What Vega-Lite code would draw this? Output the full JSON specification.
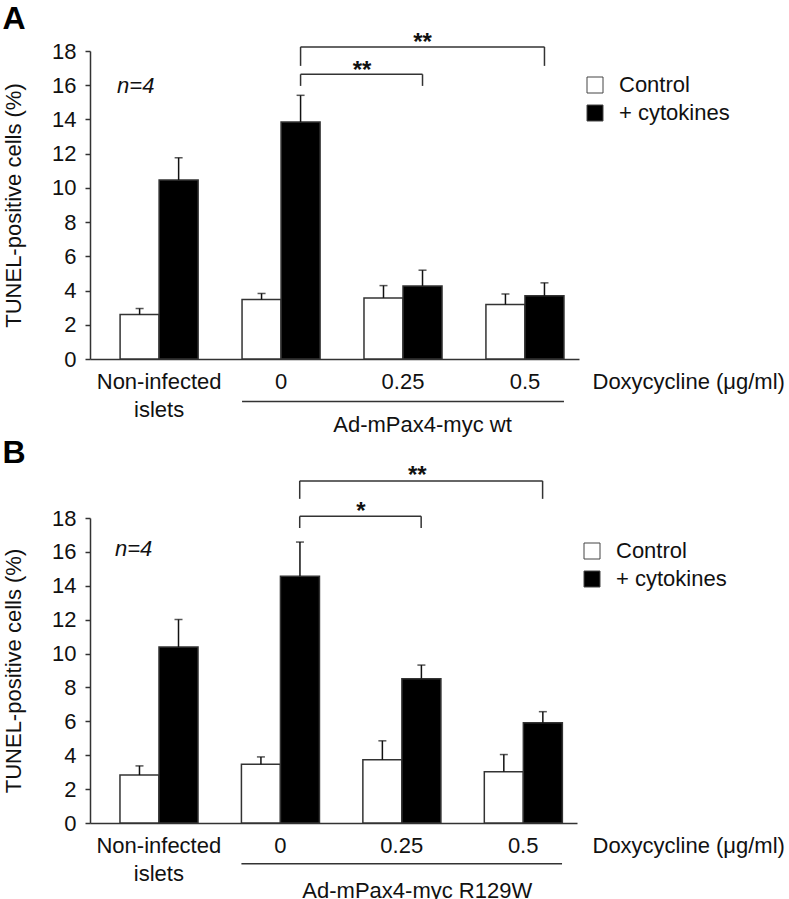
{
  "$schema": "https://vega.github.io/schema/vega-lite/v6.json",
  "background": "white",
  "autosize": {"type": "pad"},
  "padding": {"left": 2, "top": 3, "right": 0, "bottom": 0},
  "spacing": 0,
  "config": {
    "font": "Liberation Sans",
    "view": {"stroke": null},
    "axis": {"domainColor": "#333", "domainWidth": 1.5, "tickColor": "#333", "tickWidth": 1.5, "labelColor": "#111", "titleColor": "#111", "labelFontSize": 22, "titleFontSize": 22, "titleFontWeight": "normal", "labelFont": "Liberation Sans", "titleFont": "Liberation Sans", "grid": false, "labelOverlap": false},
    "legend": {"labelFontSize": 22, "labelFont": "Liberation Sans", "labelColor": "#111", "symbolType": "square", "symbolSize": 256, "symbolStrokeColor": "#444", "symbolStrokeWidth": 1, "rowPadding": 6, "labelOffset": 13, "padding": 0},
    "text": {"font": "Liberation Sans", "fontSize": 22, "color": "#111"}
  },
  "resolve": {"scale": {"fill": "independent"}, "legend": {"fill": "independent"}},
  "vconcat": [
    {
      "width": 489,
      "height": 308,
      "title": {"text": "A", "anchor": "start", "frame": "bounds", "fontSize": 32, "fontWeight": "bold", "offset": -30, "baseline": "alphabetic", "color": "#000", "font": "Liberation Sans"},
      "layer": [
        {
          "data": {"values": [
            {"group": "Non-infected islets", "series": "Control", "value": 2.6, "upper": 2.95},
            {"group": "Non-infected islets", "series": "+ cytokines", "value": 10.46, "upper": 11.76},
            {"group": "0", "series": "Control", "value": 3.47, "upper": 3.83},
            {"group": "0", "series": "+ cytokines", "value": 13.85, "upper": 15.41},
            {"group": "0.25", "series": "Control", "value": 3.57, "upper": 4.29},
            {"group": "0.25", "series": "+ cytokines", "value": 4.27, "upper": 5.19},
            {"group": "0.5", "series": "Control", "value": 3.18, "upper": 3.8},
            {"group": "0.5", "series": "+ cytokines", "value": 3.69, "upper": 4.45}
          ]},
          "layer": [
            {
              "mark": {"type": "bar", "stroke": "#333", "strokeWidth": 1.5},
              "encoding": {
                "x": {"field": "group", "type": "nominal", "sort": null,
                  "scale": {"domain": ["Non-infected islets", "0", "0.25", "0.5"], "paddingInner": 0.36, "paddingOuter": 0.185, "align": 0.667},
                  "axis": {"labelAngle": 0, "ticks": false, "labelPadding": 12, "labelLineHeight": 28, "labelExpr": "datum.value == 'Non-infected islets' ? ['Non-infected', 'islets'] : datum.label", "title": "Doxycycline (μg/ml)", "titleAngle": 0, "titleAlign": "left", "titleBaseline": "top", "titleX": 502, "titleY": 12, "labelOverlap": false}},
                "xOffset": {"field": "series", "type": "nominal", "sort": null, "scale": {"domain": ["Control", "+ cytokines"], "paddingInner": 0, "paddingOuter": 0}},
                "y": {"field": "value", "type": "quantitative",
                  "scale": {"domain": [0, 18], "nice": false},
                  "axis": {"title": "TUNEL-positive cells (%)", "values": [0, 2, 4, 6, 8, 10, 12, 14, 16, 18], "tickCount": 10, "labelOverlap": false, "labelFlush": false, "tickSize": 5, "labelPadding": 9, "titlePadding": 26}},
                "fill": {"field": "series", "type": "nominal", "sort": null,
                  "scale": {"domain": ["Control", "+ cytokines"], "range": ["#ffffff", "#000000"]},
                  "legend": {"title": null, "orient": "none", "legendX": 494, "legendY": 23}}
              }
            },
            {
              "mark": {"type": "rule", "color": "#111", "strokeWidth": 1.5},
              "encoding": {
                "x": {"field": "group", "type": "nominal"},
                "xOffset": {"field": "series", "type": "nominal"},
                "y": {"field": "value", "type": "quantitative", "scale": {"domain": [0, 18], "nice": false}},
                "y2": {"field": "upper"}
              }
            },
            {
              "mark": {"type": "tick", "color": "#111", "thickness": 1.5, "size": 8},
              "encoding": {
                "x": {"field": "group", "type": "nominal"},
                "xOffset": {"field": "series", "type": "nominal"},
                "y": {"field": "upper", "type": "quantitative", "scale": {"domain": [0, 18], "nice": false}}
              }
            }
          ]
        },
        {
          "data": {"values": [
            {"from": "0", "to": "0.25", "ya": 16.64, "yb": 16.64},
            {"from": "0", "to": "0", "ya": 15.96, "yb": 16.64},
            {"from": "0.25", "to": "0.25", "ya": 15.96, "yb": 16.64},
            {"from": "0", "to": "0.5", "ya": 18.24, "yb": 18.24},
            {"from": "0", "to": "0", "ya": 17.13, "yb": 18.24},
            {"from": "0.5", "to": "0.5", "ya": 17.13, "yb": 18.24}
          ]},
          "mark": {"type": "rule", "color": "#333", "strokeWidth": 1.5},
          "encoding": {
            "x": {"field": "from", "type": "nominal", "bandPosition": 0.75},
            "x2": {"field": "to", "bandPosition": 0.75},
            "y": {"field": "ya", "type": "quantitative", "scale": {"domain": [0, 18], "nice": false}},
            "y2": {"field": "yb"}
          }
        },
        {
          "data": {"values": [{"group": "0.25", "y": 18.05, "label": "**"}]},
          "mark": {"type": "text", "fontSize": 24, "fontWeight": "bold", "baseline": "alphabetic", "align": "center"},
          "encoding": {
            "x": {"field": "group", "type": "nominal", "bandPosition": 0.75},
            "y": {"field": "y", "type": "quantitative", "scale": {"domain": [0, 18], "nice": false}},
            "text": {"field": "label"}
          }
        },
        {
          "data": {"values": [{"group": "0.25", "y": 16.41, "label": "**"}]},
          "mark": {"type": "text", "fontSize": 24, "fontWeight": "bold", "baseline": "alphabetic", "align": "center", "dx": -2},
          "encoding": {
            "x": {"field": "group", "type": "nominal", "bandPosition": 0},
            "y": {"field": "y", "type": "quantitative", "scale": {"domain": [0, 18], "nice": false}},
            "text": {"field": "label"}
          }
        },
        {
          "data": {"values": [{"group": "Non-infected islets", "y": 15.56, "label": "n=4"}]},
          "mark": {"type": "text", "fontStyle": "italic", "baseline": "alphabetic", "align": "left", "dx": -3},
          "encoding": {
            "x": {"field": "group", "type": "nominal", "bandPosition": 0},
            "y": {"field": "y", "type": "quantitative", "scale": {"domain": [0, 18], "nice": false}},
            "text": {"field": "label"}
          }
        },
        {
          "data": {"values": [{"from": "0", "to": "0.5", "y": -2.48}]},
          "mark": {"type": "rule", "color": "#333", "strokeWidth": 1.5},
          "encoding": {
            "x": {"field": "from", "type": "nominal", "bandPosition": 0},
            "x2": {"field": "to", "bandPosition": 1},
            "y": {"field": "y", "type": "quantitative", "scale": {"domain": [0, 18], "nice": false}}
          }
        },
        {
          "data": {"values": [{"group": "0.25", "y": -3.84, "label": "Ad-mPax4-myc wt"}]},
          "mark": {"type": "text", "baseline": "middle", "align": "center"},
          "encoding": {
            "x": {"field": "group", "type": "nominal", "bandPosition": 0.75},
            "y": {"field": "y", "type": "quantitative", "scale": {"domain": [0, 18], "nice": false}},
            "text": {"field": "label"}
          }
        }
      ]
    },
    {
      "width": 487,
      "height": 305,
      "title": {"text": "B", "anchor": "start", "frame": "bounds", "fontSize": 32, "fontWeight": "bold", "offset": -31, "baseline": "alphabetic", "color": "#000", "font": "Liberation Sans"},
      "layer": [
        {
          "data": {"values": [
            {"group": "Non-infected islets", "series": "Control", "value": 2.83, "upper": 3.37},
            {"group": "Non-infected islets", "series": "+ cytokines", "value": 10.38, "upper": 12.01},
            {"group": "0", "series": "Control", "value": 3.47, "upper": 3.9},
            {"group": "0", "series": "+ cytokines", "value": 14.56, "upper": 16.58},
            {"group": "0.25", "series": "Control", "value": 3.73, "upper": 4.85},
            {"group": "0.25", "series": "+ cytokines", "value": 8.52, "upper": 9.32},
            {"group": "0.5", "series": "Control", "value": 3.02, "upper": 4.04},
            {"group": "0.5", "series": "+ cytokines", "value": 5.91, "upper": 6.57}
          ]},
          "layer": [
            {
              "mark": {"type": "bar", "stroke": "#333", "strokeWidth": 1.5},
              "encoding": {
                "x": {"field": "group", "type": "nominal", "sort": null,
                  "scale": {"domain": ["Non-infected islets", "0", "0.25", "0.5"], "paddingInner": 0.36, "paddingOuter": 0.185, "align": 0.667},
                  "axis": {"labelAngle": 0, "ticks": false, "labelPadding": 12, "labelLineHeight": 28, "labelExpr": "datum.value == 'Non-infected islets' ? ['Non-infected', 'islets'] : datum.label", "title": "Doxycycline (μg/ml)", "titleAngle": 0, "titleAlign": "left", "titleBaseline": "top", "titleX": 502, "titleY": 12, "labelOverlap": false}},
                "xOffset": {"field": "series", "type": "nominal", "sort": null, "scale": {"domain": ["Control", "+ cytokines"], "paddingInner": 0, "paddingOuter": 0}},
                "y": {"field": "value", "type": "quantitative",
                  "scale": {"domain": [0, 18], "nice": false},
                  "axis": {"title": "TUNEL-positive cells (%)", "values": [0, 2, 4, 6, 8, 10, 12, 14, 16, 18], "tickCount": 10, "labelOverlap": false, "labelFlush": false, "tickSize": 5, "labelPadding": 9, "titlePadding": 26}},
                "fill": {"field": "series", "type": "nominal", "sort": null,
                  "scale": {"domain": ["Control", "+ cytokines"], "range": ["#ffffff", "#000000"]},
                  "legend": {"title": null, "orient": "none", "legendX": 491, "legendY": 22}}
              }
            },
            {
              "mark": {"type": "rule", "color": "#111", "strokeWidth": 1.5},
              "encoding": {
                "x": {"field": "group", "type": "nominal"},
                "xOffset": {"field": "series", "type": "nominal"},
                "y": {"field": "value", "type": "quantitative", "scale": {"domain": [0, 18], "nice": false}},
                "y2": {"field": "upper"}
              }
            },
            {
              "mark": {"type": "tick", "color": "#111", "thickness": 1.5, "size": 8},
              "encoding": {
                "x": {"field": "group", "type": "nominal"},
                "xOffset": {"field": "series", "type": "nominal"},
                "y": {"field": "upper", "type": "quantitative", "scale": {"domain": [0, 18], "nice": false}}
              }
            }
          ]
        },
        {
          "data": {"values": [
            {"from": "0", "to": "0.25", "ya": 18.1, "yb": 18.1},
            {"from": "0", "to": "0", "ya": 17.41, "yb": 18.1},
            {"from": "0.25", "to": "0.25", "ya": 17.41, "yb": 18.1},
            {"from": "0", "to": "0.5", "ya": 20.19, "yb": 20.19},
            {"from": "0", "to": "0", "ya": 19.13, "yb": 20.19},
            {"from": "0.5", "to": "0.5", "ya": 19.13, "yb": 20.19}
          ]},
          "mark": {"type": "rule", "color": "#333", "strokeWidth": 1.5},
          "encoding": {
            "x": {"field": "from", "type": "nominal", "bandPosition": 0.75},
            "x2": {"field": "to", "bandPosition": 0.75},
            "y": {"field": "ya", "type": "quantitative", "scale": {"domain": [0, 18], "nice": false}},
            "y2": {"field": "yb"}
          }
        },
        {
          "data": {"values": [{"group": "0.25", "y": 20.09, "label": "**"}]},
          "mark": {"type": "text", "fontSize": 24, "fontWeight": "bold", "baseline": "alphabetic", "align": "center"},
          "encoding": {
            "x": {"field": "group", "type": "nominal", "bandPosition": 0.7},
            "y": {"field": "y", "type": "quantitative", "scale": {"domain": [0, 18], "nice": false}},
            "text": {"field": "label"}
          }
        },
        {
          "data": {"values": [{"group": "0.25", "y": 17.97, "label": "*"}]},
          "mark": {"type": "text", "fontSize": 24, "fontWeight": "bold", "baseline": "alphabetic", "align": "center", "dx": -2},
          "encoding": {
            "x": {"field": "group", "type": "nominal", "bandPosition": 0},
            "y": {"field": "y", "type": "quantitative", "scale": {"domain": [0, 18], "nice": false}},
            "text": {"field": "label"}
          }
        },
        {
          "data": {"values": [{"group": "Non-infected islets", "y": 15.74, "label": "n=4"}]},
          "mark": {"type": "text", "fontStyle": "italic", "baseline": "alphabetic", "align": "left", "dx": -5},
          "encoding": {
            "x": {"field": "group", "type": "nominal", "bandPosition": 0},
            "y": {"field": "y", "type": "quantitative", "scale": {"domain": [0, 18], "nice": false}},
            "text": {"field": "label"}
          }
        },
        {
          "data": {"values": [{"from": "0", "to": "0.5", "y": -2.4}]},
          "mark": {"type": "rule", "color": "#333", "strokeWidth": 1.5},
          "encoding": {
            "x": {"field": "from", "type": "nominal", "bandPosition": 0},
            "x2": {"field": "to", "bandPosition": 1},
            "y": {"field": "y", "type": "quantitative", "scale": {"domain": [0, 18], "nice": false}}
          }
        },
        {
          "data": {"values": [{"group": "0.25", "y": -4.04, "label": "Ad-mPax4-myc R129W"}]},
          "mark": {"type": "text", "baseline": "middle", "align": "center"},
          "encoding": {
            "x": {"field": "group", "type": "nominal", "bandPosition": 0.7},
            "y": {"field": "y", "type": "quantitative", "scale": {"domain": [0, 18], "nice": false}},
            "text": {"field": "label"}
          }
        }
      ]
    }
  ]
}
